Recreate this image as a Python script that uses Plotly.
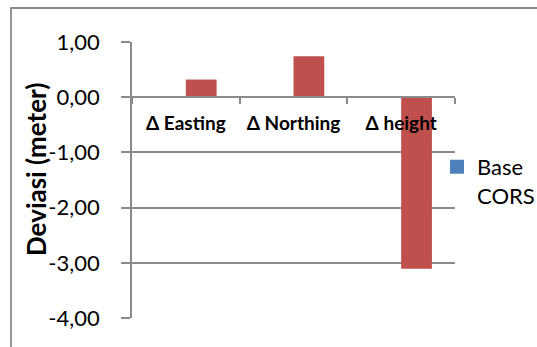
import plotly.graph_objects as go

# Deviation of the Base CORS solution per coordinate component (meters)
categories = ["Δ Easting", "Δ Northing", "Δ height"]
base_cors = [None, None, None]
deviasi = [0.32, 0.74, -3.11]
y_ticks = [-4, -3, -2, -1, 0, 1]
y_tick_labels = [f"{v:.2f}".replace(".", ",") for v in y_ticks]

W, H = 537, 347
M_L, M_R, M_T, M_B = 132, 82, 42, 29
PW, PH = W - M_L - M_R, H - M_T - M_B


def px_x(x):
    """Pixel column -> paper x (plot-area normalized)."""
    return (x - M_L) / PW


def px_y(y):
    """Pixel row -> paper y (plot-area normalized)."""
    return (H - M_B - y) / PH


grid = "#8a8a8a"
font = "Lato"

fig = go.Figure()
fig.add_trace(go.Bar(
    x=categories, y=base_cors, name="Base<br>CORS",
    marker=dict(color="#4F81BD", line=dict(color="#4F81BD", width=2)),
))
fig.add_trace(go.Bar(
    x=categories, y=deviasi, name="Deviasi", showlegend=False,
    marker=dict(color="#C0504D", line=dict(width=0)),
))

y_min, y_max = y_ticks[0], y_ticks[-1]
zero_pos = (0 - y_min) / (y_max - y_min)

fig.update_layout(
    width=W, height=H,
    margin=dict(l=M_L, r=M_R, t=M_T, b=M_B, pad=0, autoexpand=False),
    paper_bgcolor="white", plot_bgcolor="white",
    barmode="group", bargap=1.5 / 3.5, bargroupgap=0,
    font=dict(family=font, color="black"),
    showlegend=True,
    legend=dict(
        x=px_x(437), y=px_y(146), xanchor="left", yanchor="top",
        valign="top", font=dict(size=22, family=font),
        bgcolor="rgba(0,0,0,0)", borderwidth=0,
    ),
    xaxis=dict(
        type="category", anchor="free", position=zero_pos,
        showline=True, linecolor=grid, linewidth=1.8,
        ticks="outside", tickson="boundaries", ticklen=6,
        tickcolor=grid, tickwidth=1.8, tickangle=0,
        showgrid=False, zeroline=False, automargin=False,
        tickfont=dict(size=19, family=font, color="black", weight="bold"),
        ticklabelstandoff=9,
    ),
    yaxis=dict(
        range=[y_min, y_max], tickvals=y_ticks, ticktext=y_tick_labels,
        showline=True, linecolor=grid, linewidth=1.8,
        ticks="outside", ticklen=9, tickcolor=grid, tickwidth=1.8,
        showgrid=True, gridcolor=grid, gridwidth=1.8,
        zeroline=False, automargin=False,
        tickfont=dict(size=22, family=font, color="black"),
        ticklabelstandoff=17,
    ),
    annotations=[dict(
        text="<b>Deviasi (meter)</b>", textangle=-90,
        xref="paper", yref="paper", x=px_x(36), y=px_y(170),
        xanchor="center", yanchor="middle",
        showarrow=False, font=dict(size=26, family=font, color="black"),
    )],
    shapes=[dict(
        type="rect", xref="paper", yref="paper",
        x0=px_x(11), x1=1.5, y0=-0.5, y1=px_y(8),
        line=dict(color="#8a8a8a", width=1.8), fillcolor="rgba(0,0,0,0)",
        layer="below",
    )],
)

fig.write_html("out.html")
